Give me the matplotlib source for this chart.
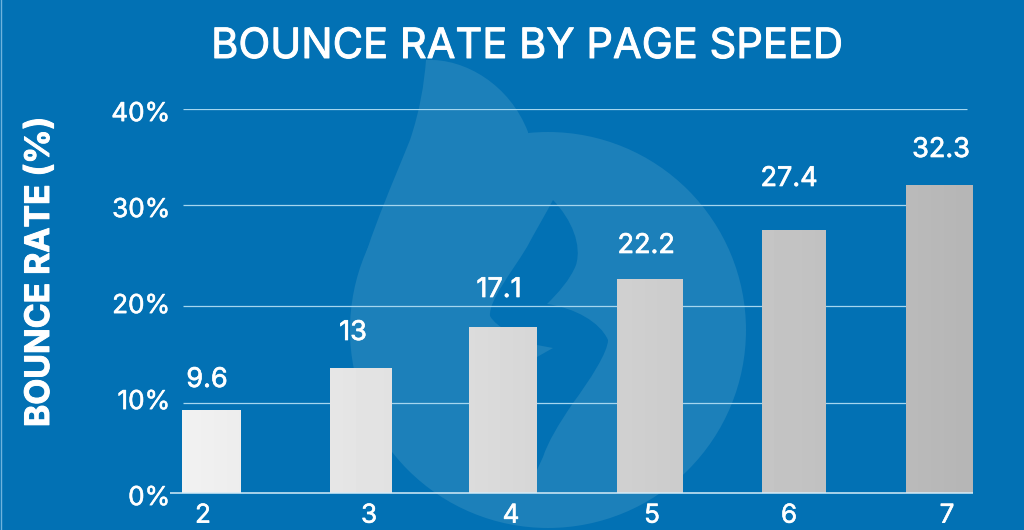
import numpy as np
import matplotlib
matplotlib.use('Agg')
import matplotlib.pyplot as plt
import matplotlib.patheffects as pe
from matplotlib.patches import Circle, PathPatch
from matplotlib.path import Path
from matplotlib.transforms import Affine2D, ScaledTranslation

# values
speeds = ['2', '3', '4', '5', '6', '7']
bar_heights = [8.65, 13.0, 17.3, 22.3, 27.4, 32.1]
bar_labels = ['9.6', '13', '17.1', '22.2', '27.4', '32.3']
tick_values = [0, 10, 20, 30, 40]
tick_labels = ['0%', '10%', '20%', '30%', '40%']
grid_values = [9.4, 19.5, 30, 40]

# layout, in pixels of the 1024x530 image
W, H = 1024, 530
bar_left = [182, 330, 469, 617, 762, 906]
bar_right = [241, 392, 537, 683, 826, 973]
xtick_px = [203, 369, 511, 652, 789, 947]
label_x = [207, 353, 499, 646, 789, 941]
label_y = [380, 333, 290, 246, 179, 150]

BG = '#0271b4'
FLAME = '#1c80ba'
WHITE = '#ffffff'
LINE = '#a5d6ef'
FONT = 'Inter'

plt.rcParams['font.family'] = FONT


def thicker(w):
    return [pe.withStroke(linewidth=w, foreground=WHITE)]


fig = plt.figure(figsize=(W / 100, H / 100), dpi=100, facecolor=BG)
px = Affine2D().scale(1, -1).translate(0, H)

# flame watermark behind the chart
fig.add_artist(Circle((548, 330), 198, transform=px, fc=FLAME, ec='none', zorder=-3))
tip = Path([(351, 315), (356, 265), (392, 185), (410, 140), (420, 110), (424, 85), (426, 60),
            (465, 58), (510, 85), (528, 132), (548, 330), (351, 315)],
           [Path.MOVETO] + [Path.CURVE4] * 9 + [Path.LINETO, Path.CLOSEPOLY])
fig.add_artist(PathPatch(tip, transform=px, fc=FLAME, ec='none', zorder=-3))
inner = Path([(553, 200), (572, 220), (582, 245), (576, 265), (570, 280), (558, 293), (547, 304),
              (575, 308), (600, 322), (608, 340), (608, 352), (590, 380), (573, 403),
              (558, 425), (548, 442), (543, 457), (537, 470), (537, 357), (553, 348), (537, 345),
              (515, 335), (497, 328), (490, 316), (489, 300), (510, 275), (527, 247),
              (535, 232), (545, 215), (553, 200), (553, 200)],
             [Path.MOVETO] + [Path.CURVE4] * 12 + [Path.CURVE4] * 3 + [Path.LINETO] * 3
             + [Path.LINETO] + [Path.CURVE4] * 9 + [Path.CLOSEPOLY])
fig.add_artist(PathPatch(inner, transform=px, fc=BG, ec='none', zorder=-2))
fig.add_artist(plt.Line2D([0.5, 0.5], [0, H], transform=px, color='#6fb3dc', lw=1, zorder=-1))

# axes: 0% at y=493, 40% at y=109
ax_l, ax_r = 170, 975
ax = fig.add_axes([ax_l / W, (H - 493) / H, (ax_r - ax_l) / W, (493 - 109) / H])
ax.patch.set_alpha(0)
ax.set_xlim(ax_l, ax_r)
ax.set_ylim(0, 40)

for v in grid_values:
    ax.hlines(v, 183, 967, color=LINE, lw=0.9, zorder=1)
ax.hlines(0, 170, 973, color='#d5ecf8', lw=1.1, zorder=3, clip_on=False)

shade = np.linspace(0.95, 0.71, 256).reshape(1, -1)
for left, right, height in zip(bar_left, bar_right, bar_heights):
    bar = ax.bar(left, height, width=right - left, align='edge', color='none', zorder=2)[0]
    img = ax.imshow(shade, cmap='gray', vmin=0, vmax=1, extent=[ax_l, ax_r, 0, 40],
                    aspect='auto', zorder=2)
    img.set_clip_path(bar)
ax.set_xlim(ax_l, ax_r)
ax.set_ylim(0, 40)

ax.set_xticks(xtick_px, speeds)
ax.set_yticks(tick_values, tick_labels)
ax.tick_params(axis='both', length=0, labelcolor=WHITE, labelsize=18.8)
ax.tick_params(axis='y', pad=0)
ax.tick_params(axis='x', pad=7)
down = ScaledTranslation(0, -1.5 / 72, fig.dpi_scale_trans)
for lab in ax.get_yticklabels():
    lab.set_transform(lab.get_transform() + down)
for lab in ax.get_xticklabels() + ax.get_yticklabels():
    lab.set_path_effects(thicker(0.4))
for side in ax.spines.values():
    side.set_visible(False)

for x, y, text in zip(label_x, label_y, bar_labels):
    fig.text(x, y, text, transform=px, color=WHITE, fontsize=19.5, ha='center', va='center',
             path_effects=thicker(0.5))

fig.text(527, 47, 'BOUNCE RATE BY PAGE SPEED', transform=px, color=WHITE, fontsize=30,
         ha='center', va='center', path_effects=thicker(0.7))
fig.text(40, 272, 'BOUNCE RATE (%)', transform=px, color=WHITE, fontsize=24.3, weight='bold',
         rotation=90, ha='center', va='center', path_effects=thicker(0.7))

fig.savefig('out.png', dpi=100, facecolor=BG)
